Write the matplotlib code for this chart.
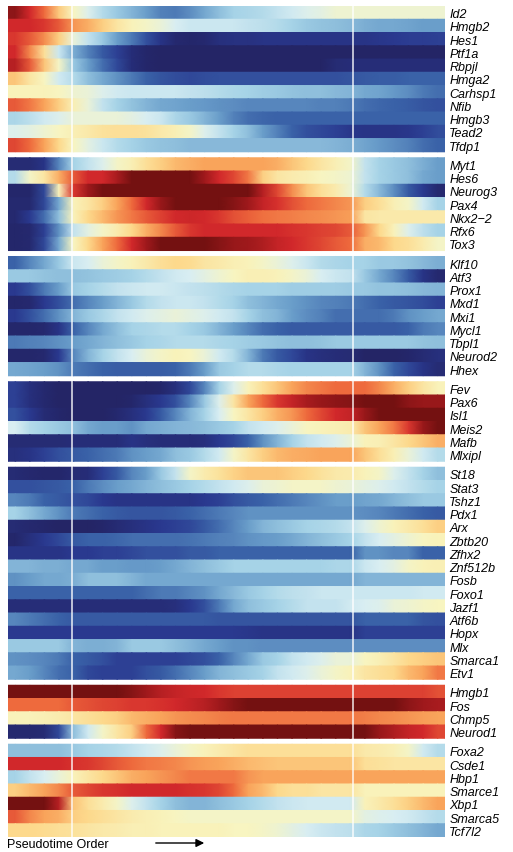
import numpy as np
import matplotlib.pyplot as plt
from matplotlib.colors import LinearSegmentedColormap

plt.rcParams['font.family'] = ['Liberation Sans', 'DejaVu Sans']

# expression along pseudotime, 0 = low (navy) ... 100 = high (dark red), 30 bins per gene
GENES_1 = ["Id2", "Hmgb2", "Hes1", "Ptf1a", "Rbpjl", "Hmga2", "Carhsp1", "Nfib", "Hmgb3", "Tead2", "Tfdp1"]
VALUES_1 = [
    [97, 88, 80, 65, 53, 48, 42, 38, 34, 30, 25, 24, 27, 32, 36, 40, 41, 42, 44, 46, 48, 49, 51, 51, 51, 51, 51, 51, 51, 51],
    [88, 88, 86, 82, 74, 70, 64, 58, 54, 52, 50, 47, 45, 45, 45, 45, 44, 43, 42, 40, 38, 37, 36, 35, 33, 32, 32, 31, 30, 30],
    [86, 82, 75, 64, 50, 44, 38, 30, 24, 16, 8, 3, 2, 3, 6, 7, 7, 8, 8, 8, 8, 8, 8, 8, 8, 9, 10, 11, 11, 12],
    [88, 76, 60, 45, 33, 25, 18, 12, 5, 2, 1, 1, 1, 1, 1, 1, 1, 1, 1, 1, 1, 1, 1, 1, 1, 1, 1, 1, 1, 1],
    [92, 82, 66, 52, 38, 30, 22, 14, 5, 2, 1, 1, 1, 1, 1, 1, 1, 1, 1, 1, 1, 1, 4, 5, 5, 5, 5, 5, 5, 5],
    [66, 58, 53, 46, 42, 36, 32, 28, 24, 20, 17, 15, 14, 15, 16, 16, 16, 16, 16, 16, 16, 16, 16, 17, 18, 19, 19, 20, 20, 20],
    [54, 54, 54, 53, 51, 50, 48, 46, 45, 45, 45, 45, 44, 43, 42, 41, 40, 39, 38, 37, 36, 36, 35, 34, 32, 31, 29, 27, 24, 22],
    [82, 78, 72, 64, 55, 50, 44, 40, 37, 34, 32, 31, 30, 29, 28, 27, 26, 26, 26, 26, 26, 25, 25, 24, 22, 21, 20, 19, 17, 16],
    [41, 43, 46, 48, 50, 50, 50, 50, 49, 47, 45, 41, 38, 34, 30, 25, 22, 21, 20, 20, 20, 20, 20, 20, 20, 20, 20, 20, 20, 20],
    [48, 49, 51, 53, 55, 57, 59, 60, 60, 59, 57, 55, 52, 48, 44, 40, 36, 30, 25, 20, 16, 14, 12, 9, 8, 8, 8, 9, 12, 15],
    [84, 80, 72, 62, 53, 49, 45, 42, 40, 38, 37, 36, 35, 35, 35, 35, 35, 35, 35, 35, 35, 35, 34, 33, 31, 29, 27, 25, 22, 20],
]

GENES_2 = ["Myt1", "Hes6", "Neurog3", "Pax4", "Nkx2\u22122", "Rfx6", "Tox3"]
VALUES_2 = [
    [4, 4, 8, 26, 40, 44, 48, 52, 55, 60, 64, 68, 70, 72, 72, 72, 72, 72, 70, 66, 62, 58, 55, 52, 44, 40, 38, 36, 33, 30],
    [42, 52, 58, 70, 82, 88, 88, 94, 100, 100, 100, 100, 100, 95, 88, 84, 78, 64, 58, 56, 55, 53, 52, 51, 44, 40, 38, 36, 32, 30],
    [2, 2, 14, 54, 86, 95, 100, 100, 100, 100, 100, 100, 100, 100, 100, 100, 100, 92, 84, 75, 66, 60, 56, 51, 42, 35, 27, 18, 10, 3],
    [3, 3, 14, 32, 54, 58, 64, 72, 80, 88, 96, 100, 100, 100, 100, 98, 95, 90, 87, 83, 80, 78, 76, 74, 64, 60, 55, 52, 46, 40],
    [3, 10, 22, 36, 54, 62, 68, 74, 78, 82, 85, 88, 89, 88, 86, 83, 81, 79, 78, 77, 76, 75, 74, 73, 58, 57, 57, 57, 57, 57],
    [2, 3, 12, 28, 44, 49, 52, 56, 62, 70, 76, 82, 86, 88, 88, 88, 88, 88, 88, 87, 86, 85, 84, 82, 74, 62, 54, 48, 43, 40],
    [2, 3, 14, 32, 53, 62, 72, 80, 88, 95, 100, 100, 100, 100, 98, 96, 95, 93, 90, 88, 86, 84, 82, 80, 70, 68, 62, 60, 56, 52],
]

GENES_3 = ["Klf10", "Atf3", "Prox1", "Mxd1", "Mxi1", "Mycl1", "Tbpl1", "Neurod2", "Hhex"]
VALUES_3 = [
    [20, 26, 32, 38, 45, 47, 50, 52, 54, 57, 60, 62, 61, 58, 57, 55, 54, 52, 50, 48, 45, 42, 41, 40, 40, 38, 38, 37, 35, 33],
    [38, 38, 37, 36, 36, 37, 38, 39, 40, 42, 44, 46, 47, 49, 51, 53, 55, 55, 54, 52, 50, 47, 45, 44, 38, 32, 26, 18, 8, 3],
    [10, 16, 24, 30, 38, 40, 42, 44, 45, 46, 46, 45, 44, 43, 42, 41, 40, 40, 40, 39, 39, 39, 39, 38, 38, 37, 37, 36, 35, 34],
    [2, 3, 10, 16, 22, 26, 30, 34, 38, 42, 44, 45, 45, 44, 42, 40, 36, 34, 32, 30, 28, 26, 25, 24, 22, 20, 18, 17, 15, 12],
    [10, 16, 22, 28, 34, 38, 41, 44, 46, 48, 49, 50, 49, 48, 46, 44, 40, 36, 34, 30, 27, 25, 22, 22, 22, 22, 24, 28, 30, 32],
    [2, 2, 3, 8, 20, 26, 32, 36, 40, 41, 42, 42, 40, 38, 34, 30, 26, 22, 20, 18, 18, 18, 18, 18, 18, 18, 18, 20, 24, 26],
    [24, 25, 26, 28, 30, 32, 34, 36, 38, 40, 41, 42, 42, 42, 41, 40, 39, 38, 37, 36, 36, 37, 38, 38, 38, 38, 38, 38, 37, 36],
    [2, 2, 3, 10, 26, 34, 40, 44, 47, 50, 52, 54, 53, 50, 46, 42, 34, 24, 18, 14, 8, 6, 5, 4, 1, 1, 1, 2, 4, 6],
    [32, 31, 30, 28, 24, 22, 20, 19, 19, 19, 19, 20, 24, 30, 38, 40, 42, 42, 41, 40, 40, 40, 40, 40, 34, 28, 20, 14, 8, 4],
]

GENES_4 = ["Fev", "Pax6", "Isl1", "Meis2", "Mafb", "Mlxipl"]
VALUES_4 = [
    [12, 6, 3, 1, 1, 1, 1, 1, 1, 1, 2, 6, 14, 26, 40, 48, 54, 60, 66, 72, 76, 78, 80, 80, 80, 76, 70, 64, 58, 54],
    [12, 6, 3, 1, 1, 1, 1, 1, 2, 6, 10, 16, 26, 38, 48, 58, 72, 80, 86, 90, 94, 96, 97, 98, 100, 100, 100, 97, 96, 96],
    [16, 10, 4, 2, 1, 1, 1, 3, 6, 10, 18, 26, 34, 40, 47, 53, 58, 64, 70, 74, 80, 84, 88, 90, 96, 100, 100, 100, 100, 100],
    [47, 42, 40, 38, 36, 32, 30, 30, 28, 32, 33, 34, 35, 36, 38, 40, 44, 46, 48, 50, 53, 54, 55, 56, 66, 72, 78, 86, 96, 100],
    [4, 4, 4, 4, 5, 5, 5, 5, 8, 6, 5, 5, 5, 6, 10, 14, 20, 28, 34, 40, 44, 46, 48, 50, 54, 55, 58, 62, 66, 70],
    [6, 8, 12, 16, 18, 20, 22, 24, 28, 30, 32, 36, 38, 42, 46, 52, 58, 64, 68, 70, 71, 72, 72, 72, 66, 60, 55, 50, 46, 42],
]

GENES_5 = ["St18", "Stat3", "Tshz1", "Pdx1", "Arx", "Zbtb20", "Zfhx2", "Znf512b",
           "Fosb", "Foxo1", "Jazf1", "Atf6b", "Hopx", "Mlx", "Smarca1", "Etv1"]
VALUES_5 = [
    [4, 3, 2, 2, 4, 5, 12, 18, 26, 30, 38, 44, 52, 56, 59, 63, 66, 66, 66, 64, 62, 59, 57, 56, 54, 52, 48, 44, 40, 36],
    [16, 16, 17, 18, 20, 24, 27, 30, 32, 34, 36, 38, 40, 42, 44, 46, 48, 50, 51, 52, 52, 52, 51, 50, 49, 48, 46, 44, 42, 40],
    [26, 24, 20, 18, 16, 14, 10, 8, 8, 8, 8, 8, 8, 10, 12, 16, 18, 20, 22, 24, 26, 28, 30, 30, 31, 32, 34, 36, 38, 38],
    [40, 36, 32, 28, 24, 22, 20, 18, 17, 17, 17, 18, 20, 22, 24, 26, 28, 28, 28, 28, 28, 28, 28, 28, 27, 26, 24, 22, 20, 18],
    [4, 3, 2, 1, 1, 1, 2, 4, 6, 8, 10, 12, 14, 18, 22, 26, 30, 34, 36, 38, 40, 41, 42, 44, 48, 51, 54, 57, 60, 64],
    [2, 6, 10, 14, 18, 20, 20, 21, 22, 22, 22, 22, 23, 24, 25, 26, 28, 29, 30, 32, 34, 36, 38, 40, 44, 47, 49, 51, 53, 54],
    [8, 8, 8, 8, 10, 10, 12, 12, 14, 16, 16, 16, 18, 18, 20, 20, 20, 20, 20, 20, 20, 20, 20, 20, 28, 28, 26, 26, 20, 20],
    [34, 34, 33, 33, 32, 32, 30, 30, 29, 29, 30, 32, 34, 36, 38, 40, 40, 40, 40, 40, 40, 40, 41, 41, 45, 47, 49, 52, 54, 55],
    [28, 30, 32, 32, 33, 36, 36, 36, 34, 32, 32, 32, 32, 32, 32, 32, 32, 32, 32, 32, 32, 32, 32, 32, 34, 34, 34, 34, 34, 34],
    [20, 20, 20, 20, 20, 20, 20, 20, 20, 22, 24, 24, 26, 28, 32, 35, 38, 40, 42, 43, 44, 45, 45, 45, 45, 45, 45, 45, 46, 46],
    [5, 5, 5, 5, 5, 5, 5, 5, 5, 5, 5, 6, 10, 16, 24, 32, 36, 38, 40, 42, 44, 44, 44, 46, 47, 48, 50, 51, 52, 53],
    [26, 24, 22, 20, 18, 18, 18, 18, 18, 18, 18, 18, 18, 18, 17, 17, 17, 17, 17, 17, 17, 17, 17, 17, 20, 20, 20, 20, 17, 16],
    [10, 10, 10, 10, 10, 10, 10, 10, 10, 10, 10, 10, 10, 10, 10, 10, 9, 8, 8, 8, 8, 8, 8, 8, 12, 12, 12, 12, 12, 12],
    [38, 38, 38, 38, 34, 33, 33, 34, 38, 38, 38, 36, 34, 32, 30, 28, 28, 27, 27, 27, 27, 27, 27, 27, 27, 27, 27, 27, 27, 27],
    [28, 27, 26, 24, 20, 18, 16, 12, 12, 12, 12, 12, 14, 16, 20, 26, 32, 38, 40, 44, 46, 48, 50, 50, 53, 55, 58, 62, 64, 66],
    [32, 30, 26, 22, 20, 14, 12, 12, 12, 16, 18, 22, 26, 30, 34, 36, 38, 40, 44, 46, 48, 50, 52, 54, 58, 60, 62, 68, 72, 78],
]

GENES_6 = ["Hmgb1", "Fos", "Chmp5", "Neurod1"]
VALUES_6 = [
    [100, 100, 100, 100, 100, 100, 100, 100, 98, 95, 92, 90, 89, 88, 86, 85, 85, 85, 85, 85, 85, 85, 85, 85, 85, 85, 85, 85, 85, 83],
    [80, 80, 80, 80, 82, 83, 84, 85, 86, 86, 87, 88, 90, 92, 95, 98, 100, 100, 100, 100, 100, 100, 100, 100, 100, 100, 100, 97, 95, 94],
    [54, 54, 55, 56, 58, 60, 62, 64, 68, 70, 72, 74, 75, 76, 77, 78, 78, 78, 78, 78, 78, 78, 78, 78, 77, 76, 75, 74, 73, 72],
    [3, 3, 4, 14, 36, 46, 52, 58, 64, 80, 88, 98, 100, 100, 100, 100, 100, 100, 100, 100, 100, 100, 100, 100, 100, 96, 93, 90, 88, 84],
]

GENES_7 = ["Foxa2", "Csde1", "Hbp1", "Smarce1", "Xbp1", "Smarca5", "Tcf7l2"]
VALUES_7 = [
    [36, 36, 36, 36, 38, 40, 41, 42, 44, 46, 48, 50, 52, 54, 56, 58, 60, 60, 60, 60, 60, 60, 60, 60, 57, 56, 55, 52, 46, 42],
    [88, 88, 88, 88, 87, 86, 84, 82, 80, 78, 77, 76, 74, 73, 72, 70, 68, 67, 66, 66, 66, 66, 66, 66, 60, 59, 58, 58, 58, 58],
    [40, 44, 47, 50, 54, 58, 62, 66, 70, 72, 74, 76, 78, 78, 78, 78, 74, 72, 72, 72, 72, 72, 72, 72, 72, 72, 72, 72, 72, 72],
    [64, 68, 72, 76, 82, 84, 86, 87, 88, 88, 88, 88, 87, 86, 84, 80, 72, 68, 62, 60, 60, 58, 58, 58, 54, 54, 54, 54, 54, 54],
    [100, 100, 100, 92, 66, 60, 56, 52, 48, 44, 40, 36, 34, 34, 36, 38, 40, 42, 44, 45, 46, 46, 46, 46, 54, 57, 60, 64, 68, 72],
    [82, 76, 72, 70, 64, 62, 60, 58, 56, 55, 54, 53, 52, 52, 52, 52, 52, 52, 52, 52, 52, 52, 52, 52, 49, 48, 47, 46, 44, 42],
    [62, 62, 61, 60, 59, 58, 57, 56, 55, 55, 54, 54, 54, 54, 54, 53, 53, 52, 51, 49, 47, 45, 44, 43, 41, 40, 38, 36, 34, 32],
]

# pseudotime positions (in bins) of the two white marker lines
MARKERS = [4.39, 23.68]

blocks = [(GENES_1, VALUES_1), (GENES_2, VALUES_2), (GENES_3, VALUES_3), (GENES_4, VALUES_4),
          (GENES_5, VALUES_5), (GENES_6, VALUES_6), (GENES_7, VALUES_7)]

cmap = LinearSegmentedColormap.from_list("expr", [
    (0.00, "#232362"), (0.10, "#2a3990"), (0.20, "#3a62a8"), (0.30, "#6b9fcb"),
    (0.40, "#a6d3e7"), (0.47, "#d9eef3"), (0.53, "#f8f5c0"), (0.62, "#fdd98c"),
    (0.72, "#f9a55c"), (0.80, "#ee6a3d"), (0.88, "#d3292b"), (0.95, "#a21a1d"),
    (1.00, "#741111"),
])

GAP = 0.45
W, H = 513, 853
fig = plt.figure(figsize=(W / 100, H / 100), dpi=100)
ax = fig.add_axes([8 / W, (H - 838) / H, 437 / W, 831 / H])

n_cols = len(VALUES_1[0])
# bin centres, plus the outer edges of the first and last bin (held at the bin value)
xs = np.concatenate([[0], np.arange(n_cols) + 0.5, [n_cols]])
y0 = 0.0
tick_pos, tick_lab = [], []
for genes, vals in blocks:
    for i, row in enumerate(vals):
        top = y0 + i
        c = np.concatenate([[row[0]], row, [row[-1]]]).astype(float)
        X = np.vstack([xs, xs])
        Y = np.vstack([np.full(xs.size, top), np.full(xs.size, top + 1.0)])
        ax.pcolormesh(X, Y, np.vstack([c, c]), cmap=cmap, vmin=0, vmax=100,
                      shading="gouraud", antialiased=False, rasterized=True)
    tick_pos += list(y0 + np.arange(len(genes)) + 0.5)
    tick_lab += genes
    y0 += len(genes) + GAP
total = y0 - GAP

for m in MARKERS:
    ax.axvline(m, color="white", lw=1.1, alpha=0.9)

ax.set_xlim(0, n_cols)
ax.set_ylim(total, 0)
ax.set_xticks([])
ax.yaxis.tick_right()
ax.set_yticks(tick_pos)
ax.set_yticklabels(tick_lab, fontsize=9, fontstyle="italic")
ax.tick_params(axis="y", length=0, pad=3)
for s in ax.spines.values():
    s.set_visible(False)

fig.text(7 / W, 1 - 845 / H, "Pseudotime Order", fontsize=9, va="center", ha="left")
ax.annotate("", xy=(207 / W, 1 - 844 / H), xytext=(153 / W, 1 - 844 / H),
            xycoords="figure fraction", textcoords="figure fraction",
            arrowprops=dict(arrowstyle="-|>", color="black", lw=1, mutation_scale=12))

fig.savefig("out.png", dpi=100)
